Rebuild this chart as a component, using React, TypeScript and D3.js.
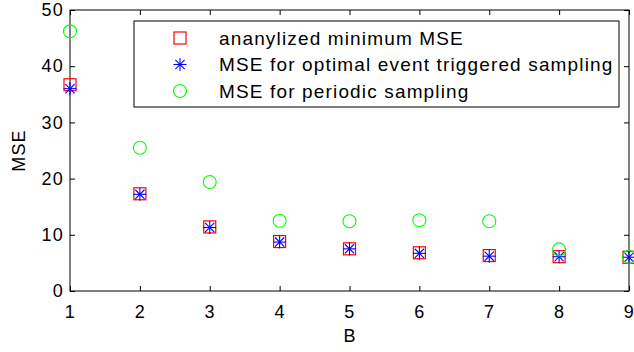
import { useEffect, useRef } from "react";
import * as d3 from "d3";

const bValues = [1, 2, 3, 4, 5, 6, 7, 8, 9];
const analyzedMin = [36.7, 17.3, 11.4, 8.8, 7.5, 6.8, 6.3, 6.1, 6.0];
const eventTriggered = [36.0, 17.2, 11.3, 8.7, 7.5, 6.7, 6.2, 6.1, 6.0];
const periodic = [46.2, 25.5, 19.4, 12.5, 12.4, 12.6, 12.4, 7.4, 6.1];
const yTicks = [0, 10, 20, 30, 40, 50];
const legendLabels = [
  "ananylized minimum MSE",
  "MSE for optimal event triggered sampling",
  "MSE for periodic sampling",
];

const App = () => {
  const svgRef = useRef<SVGSVGElement>(null);

  useEffect(() => {
    const width = 634;
    const height = 352;
    const margin = { top: 10, right: 5, bottom: 61, left: 70 };
    const innerWidth = width - margin.left - margin.right;
    const innerHeight = height - margin.top - margin.bottom;
    const font = "'Liberation Sans', Arial, sans-serif";

    const svg = d3.select(svgRef.current);
    svg.selectAll("*").remove();

    const g = svg
      .append("g")
      .attr("transform", `translate(${margin.left},${margin.top})`);

    const x = d3.scaleLinear().domain([1, 9]).range([0, innerWidth]);
    const y = d3.scaleLinear().domain([0, 50]).range([innerHeight, 0]);

    // axes box with inward ticks
    const styleAxis = (sel: any) => {
      sel.select(".domain").remove();
      sel.selectAll("line").attr("stroke", "#000");
      sel
        .selectAll("text")
        .attr("fill", "#000")
        .style("font-family", font)
        .style("font-size", "18px")
        .style("letter-spacing", "1.3px");
    };

    g.append("g")
      .attr("transform", `translate(0,${innerHeight})`)
      .call(d3.axisBottom(x).tickValues(bValues).tickSize(-5).tickPadding(14).tickFormat(d3.format("d")))
      .call(styleAxis);
    g.append("g")
      .call(d3.axisTop(x).tickValues(bValues).tickSize(-5).tickFormat(() => ""))
      .call(styleAxis);
    g.append("g")
      .call(d3.axisLeft(y).tickValues(yTicks).tickSize(-5).tickPadding(6))
      .call(styleAxis);
    g.append("g")
      .attr("transform", `translate(${innerWidth},0)`)
      .call(d3.axisRight(y).tickValues(yTicks).tickSize(-5).tickFormat(() => ""))
      .call(styleAxis);

    g.append("rect")
      .attr("width", innerWidth)
      .attr("height", innerHeight)
      .attr("fill", "none")
      .attr("stroke", "#000")
      .attr("stroke-width", 1);

    // markers
    const square = (sel: any, cx: number, cy: number) =>
      sel
        .append("rect")
        .attr("x", cx - 6)
        .attr("y", cy - 6)
        .attr("width", 12)
        .attr("height", 12)
        .attr("fill", "none")
        .attr("stroke", "#ff0000")
        .attr("stroke-width", 1.2);

    const star = (sel: any, cx: number, cy: number) => {
      const s = sel.append("g").attr("transform", `translate(${cx},${cy})`);
      const r = 6.5;
      [0, 45, 90, 135].forEach((a) => {
        const rad = (a * Math.PI) / 180;
        s.append("line")
          .attr("x1", -r * Math.cos(rad))
          .attr("y1", -r * Math.sin(rad))
          .attr("x2", r * Math.cos(rad))
          .attr("y2", r * Math.sin(rad))
          .attr("stroke", "#0000ff")
          .attr("stroke-width", 1.1);
      });
    };

    const circle = (sel: any, cx: number, cy: number) =>
      sel
        .append("circle")
        .attr("cx", cx)
        .attr("cy", cy)
        .attr("r", 6.5)
        .attr("fill", "none")
        .attr("stroke", "#00ff00")
        .attr("stroke-width", 1.1);

    bValues.forEach((b, i) => square(g, x(b), y(analyzedMin[i])));
    bValues.forEach((b, i) => star(g, x(b), y(eventTriggered[i])));
    bValues.forEach((b, i) => circle(g, x(b), y(periodic[i])));

    // axis labels
    svg
      .append("text")
      .attr("x", margin.left + innerWidth / 2)
      .attr("y", 342)
      .attr("text-anchor", "middle")
      .style("font-family", font)
      .style("font-size", "18px")
      .text("B");

    svg
      .append("text")
      .attr("transform", `translate(25,${margin.top + innerHeight / 2}) rotate(-90)`)
      .attr("text-anchor", "middle")
      .style("font-family", font)
      .style("font-size", "18px")
      .style("letter-spacing", "1.2px")
      .text("MSE");

    // legend
    const legend = svg.append("g").attr("transform", "translate(134,21)");
    legend
      .append("rect")
      .attr("width", 485)
      .attr("height", 86)
      .attr("fill", "#fff")
      .attr("stroke", "#000")
      .attr("stroke-width", 1);

    const markers = [square, star, circle];
    legendLabels.forEach((label, i) => {
      const ly = 17 + i * 26.5;
      markers[i](legend, 46, ly);
      legend
        .append("text")
        .attr("x", 85)
        .attr("y", ly)
        .attr("dy", "0.35em")
        .style("font-family", font)
        .style("font-size", "19px")
        .style("letter-spacing", "1.15px")
        .text(label);
    });
  }, []);

  return (
    <svg
      ref={svgRef}
      width={634}
      height={352}
      style={{ position: "absolute", left: 0, top: 0, background: "#fff" }}
    />
  );
};

export default App;
